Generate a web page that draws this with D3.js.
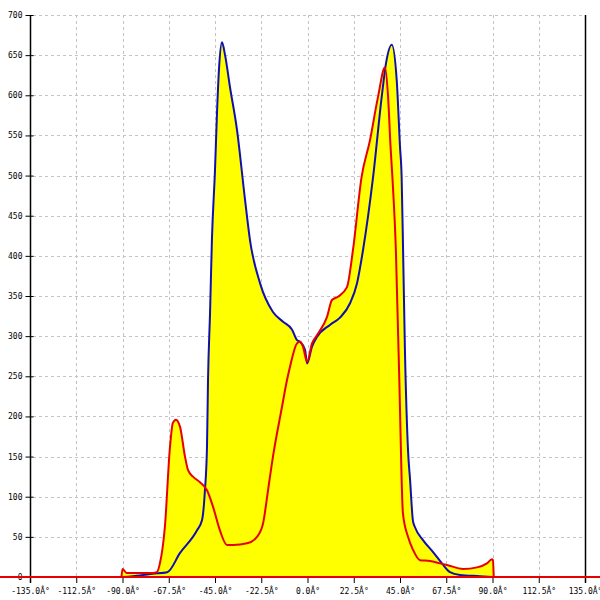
<!DOCTYPE html>
<html>
<head>
<meta charset="utf-8">
<script src="https://cdn.jsdelivr.net/npm/d3@7"></script>
<style>
  html, body { margin: 0; padding: 0; background: #fff; }
  svg { display: block; }
  text { font-family: "DejaVu Sans Mono", monospace; font-size: 8px; fill: #000; }
</style>
</head>
<body>
<svg id="chart" width="600" height="600"></svg>
<script>
// Angle (degrees) and intensity for the blue series
const blueAngles = [-90.0, -81.5, -75.2, -68.2, -62.0, -53.8, -51.3, -49.9, -48.9, -48.4, -47.4, -46.5, -45.0, -44.0, -43.0, -41.6, -40.1, -37.7, -34.3, -30.4, -28.0, -23.1, -16.8, -11.9, -7.5, -5.1, -3.6, -1.2, -0.2, 2.2, 4.6, 10.9, 15.8, 20.7, 24.1, 27.0, 31.9, 36.1, 38.2, 41.0, 43.4, 45.0, 45.8, 46.5, 47.4, 48.9, 49.9, 51.3, 52.3, 56.2, 61.1, 65.4, 69.3, 74.2, 83.9, 90.0];
const blueValues = [0, 2, 4, 6, 30, 58, 71, 108, 162, 245, 330, 420, 507, 580, 635, 666, 650, 610, 557, 470, 420, 366, 330, 318, 308, 295, 293, 283, 266, 287, 299, 314, 323, 341, 366, 407, 498, 598, 640, 663, 619, 536, 498, 407, 283, 158, 121, 70, 62, 46, 31, 17, 6, 2.5, 1, 0];

// Angle (degrees) and intensity for the red series
const redAngles = [-90.5, -90.0, -88.0, -75.2, -73.3, -71.8, -69.4, -66.9, -65.5, -64.0, -62.0, -59.6, -58.1, -55.7, -52.3, -48.9, -45.9, -42.6, -39.2, -36.2, -29.4, -24.6, -21.6, -19.2, -16.8, -12.4, -10.0, -8.5, -5.1, -3.6, -2.2, -0.2, 2.2, 4.6, 9.5, 11.9, 14.8, 19.2, 22.1, 26.3, 30.4, 34.3, 37.7, 39.2, 40.4, 41.3, 43.0, 44.9, 45.8, 46.4, 48.9, 51.3, 54.7, 59.6, 64.5, 67.9, 75.7, 82.5, 87.3, 89.7, 90.2, 90.6];
const redValues = [0, 10, 5, 5, 6, 17, 62, 162, 192, 196, 187, 150, 133, 125, 118, 108, 87, 58, 40, 40, 42, 50, 67, 108, 150, 212, 245, 262, 291, 293, 287, 268, 291, 301, 324, 345, 349, 361, 407, 498, 544, 598, 635, 598, 536, 498, 407, 220, 121, 80, 50, 34, 21, 20, 17, 15, 10, 12, 17, 22, 21, 0];

const xTicks = [-135, -112.5, -90, -67.5, -45, -22.5, 0, 22.5, 45, 67.5, 90, 112.5, 135];
const xTickLabels = ["-135.0Â°", "-112.5Â°", "-90.0Â°", "-67.5Â°", "-45.0Â°", "-22.5Â°", "0.0Â°", "22.5Â°", "45.0Â°", "67.5Â°", "90.0Â°", "112.5Â°", "135.0Â°"];
const yTicks = [0, 50, 100, 150, 200, 250, 300, 350, 400, 450, 500, 550, 600, 650, 700];

const W = 600, H = 600;
const m = { left: 30, right: 15, top: 15, bottom: 23 };
const svg = d3.select("#chart");

const x = d3.scaleLinear().domain([-135, 135]).range([m.left, W - m.right]);
const y = d3.scaleLinear().domain([0, 700]).range([H - m.bottom, m.top]);

const blue = blueAngles.map((a, i) => [a, blueValues[i]]);
const red = redAngles.map((a, i) => [a, redValues[i]]);

// grid
const grid = svg.append("g").attr("stroke", "#c4c4c4").attr("stroke-dasharray", "3,3").attr("stroke-width", 1);
grid.selectAll("line.h").data(yTicks.filter(d => d > 0)).join("line")
  .attr("x1", m.left + 3).attr("x2", W - m.right - 2)
  .attr("y1", d => Math.round(y(d)) + 0.5).attr("y2", d => Math.round(y(d)) + 0.5);
grid.selectAll("line.v").data(xTicks.filter(d => d > -135 && d < 135)).join("line")
  .attr("x1", d => Math.round(x(d)) + 0.5).attr("x2", d => Math.round(x(d)) + 0.5)
  .attr("y1", m.top).attr("y2", y(0));

// areas
const area = d3.area().x(d => x(d[0])).y0(y(0)).y1(d => y(d[1])).curve(d3.curveMonotoneX);
svg.append("path").datum(blue).attr("d", area).attr("fill", "#ffff00");
svg.append("path").datum(red).attr("d", area).attr("fill", "#ffff00");

// axes
const yAxis = d3.axisLeft(y).tickValues(yTicks).tickSize(0).tickPadding(8).tickFormat(d3.format("d"));
const gy = svg.append("g").attr("transform", `translate(${m.left + 0.5},0)`).call(yAxis);
gy.select(".domain").remove();
gy.selectAll("text").style("font-family", "DejaVu Sans Mono, monospace").style("font-size", "8px");
gy.selectAll(".tick").append("line").attr("x1", -5).attr("x2", 3).attr("stroke", "#000");
svg.append("line").attr("x1", m.left + 0.5).attr("x2", m.left + 0.5).attr("y1", m.top).attr("y2", y(0) + 6).attr("stroke", "#000").attr("stroke-width", 1.5);
svg.append("line").attr("x1", W - m.right + 0.5).attr("x2", W - m.right + 0.5).attr("y1", m.top).attr("y2", y(0) + 6).attr("stroke", "#000").attr("stroke-width", 1.5);

const xAxis = d3.axisBottom(x).tickValues(xTicks).tickSize(6).tickPadding(5).tickFormat((d, i) => xTickLabels[i]);
const gx = svg.append("g").attr("transform", `translate(0,${y(0)})`).call(xAxis);
gx.select(".domain").remove();
gx.selectAll("text").style("font-family", "DejaVu Sans Mono, monospace").style("font-size", "8px");

// lines
const line = d3.line().x(d => x(d[0])).y(d => y(d[1])).curve(d3.curveMonotoneX);
svg.append("path").datum(blue).attr("d", line).attr("fill", "none").attr("stroke", "#1010b0").attr("stroke-width", 2);
svg.append("line").attr("x1", 0).attr("x2", W).attr("y1", y(0)).attr("y2", y(0)).attr("stroke", "#e80000").attr("stroke-width", 2);
svg.append("path").datum(red).attr("d", line).attr("fill", "none").attr("stroke", "#e80000").attr("stroke-width", 2);
</script>
</body>
</html>
